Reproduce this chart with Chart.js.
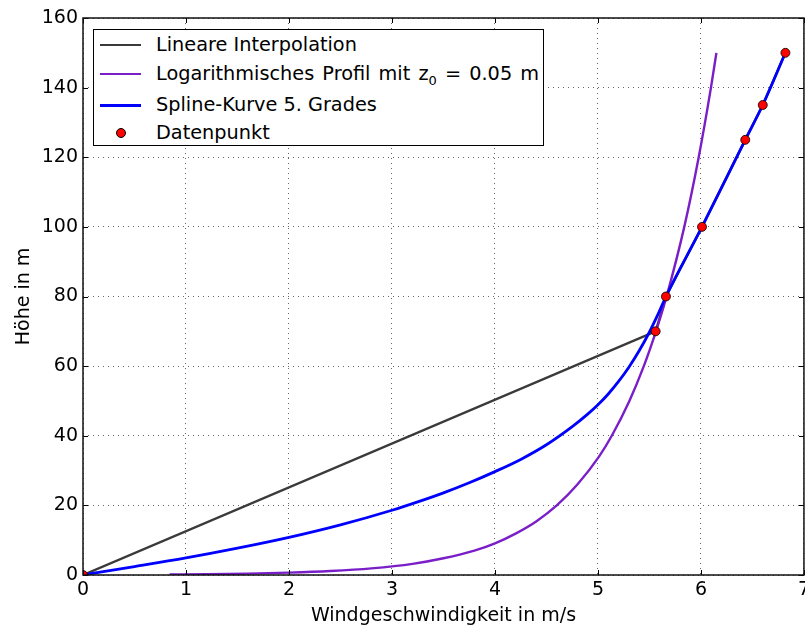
<!DOCTYPE html>
<html>
<head>
<meta charset="utf-8">
<script src="https://cdn.jsdelivr.net/npm/chart.js@4/dist/chart.umd.min.js"></script>
<style>
    html, body { margin: 0; padding: 0; background: #fff; overflow: hidden; }
    #wrap { position: relative; width: 805px; height: 628px; overflow: hidden; }
    #chart { position: absolute; left: 0; top: 0; }
    #legend {
        position: absolute; left: 93px; top: 29px; width: 449px; height: 115px;
        border: 1px solid #000; background: #fff;
        font-family: "DejaVu Sans", sans-serif; font-size: 19.3px; color: #000;
    }
    .row { position: absolute; left: 0; height: 24px; width: 100%; }
    .sample { position: absolute; left: 6px; top: 11px; width: 41px; height: 2px; }
    .dot { position: absolute; left: 22px; top: 7px; width: 8px; height: 8px; border-radius: 50%; border: 1px solid #000; }
    .label { position: absolute; left: 62px; top: 0; line-height: 24px; white-space: nowrap; }
    .label sub { font-size: 13px; vertical-align: -5px; line-height: 0; }
    .wide { word-spacing: 2px; }
</style>
</head>
<body>
<div id="wrap">
    <canvas id="chart" width="814" height="628"></canvas>
    <div id="legend"></div>
</div>
<script>
// data
const pointX = [0, 5.56, 5.66, 6.01, 6.43, 6.6, 6.82];
const pointY = [0, 70, 80, 100, 125, 135, 150];

const splineX = [0, 0.5, 1, 1.5, 2, 2.5, 3, 3.25, 3.5, 3.75, 4, 4.25, 4.5, 4.75, 4.9, 5.0, 5.1, 5.2, 5.3, 5.4, 5.5, 5.58, 5.66, 6.01, 6.43, 6.6, 6.82];
const splineY = [0, 2.4, 4.9, 7.7, 10.8, 14.4, 18.6, 21.0, 23.6, 26.5, 29.7, 33.2, 37.4, 42.6, 46.2, 48.9, 52, 55.6, 59.7, 64.4, 69.8, 74.7, 80, 100, 125, 135, 150];

const logX = [0.84, 1.2, 1.6, 2.0, 2.4, 2.8, 3.2, 3.5, 3.8, 4.0, 4.2, 4.4, 4.6, 4.8, 5.01, 5.134, 5.305, 5.445, 5.563, 5.666, 5.838, 5.978, 6.097, 6.15];
const logY = [0.15, 0.24, 0.4, 0.68, 1.14, 1.9, 3.2, 4.8, 7.0, 9.1, 11.9, 15.4, 20, 26, 34, 40, 50, 60, 70, 80, 100, 120, 140, 150];

const seriesLabels = [
    "Lineare Interpolation",
    "Logarithmisches Profil mit z<sub>0</sub> = 0.05 m",
    "Spline-Kurve 5. Grades",
    "Datenpunkt"
];

const xTicks = [0, 1, 2, 3, 4, 5, 6, 7];
const yTicks = [0, 20, 40, 60, 80, 100, 120, 140, 160];

const toPoints = (xs, ys) => xs.map((x, i) => ({ x, y: ys[i] }));

const FONT = "'DejaVu Sans', sans-serif";

const framePlugin = {
    id: "frame",
    afterDatasetsDraw(chart) {
        const { ctx, chartArea: a, scales: { x, y } } = chart;
        ctx.save();
        ctx.strokeStyle = "#000";
        ctx.lineWidth = 1;
        ctx.beginPath();
        xTicks.forEach(v => {
            const px = Math.round(x.getPixelForValue(v)) + 0.5;
            ctx.moveTo(px, a.bottom); ctx.lineTo(px, a.bottom - 5);
            ctx.moveTo(px, a.top); ctx.lineTo(px, a.top + 5);
        });
        yTicks.forEach(v => {
            const py = Math.round(y.getPixelForValue(v)) + 0.5;
            ctx.moveTo(a.left, py); ctx.lineTo(a.left + 5, py);
            ctx.moveTo(a.right, py); ctx.lineTo(a.right - 5, py);
        });
        ctx.stroke();
        ctx.lineWidth = 1.5;
        ctx.strokeStyle = "#111";
        ctx.strokeRect(a.left, a.top, a.width, a.height);
        ctx.restore();
    }
};

const chart = new Chart(document.getElementById("chart"), {
    type: "line",
    data: {
        datasets: [
            {
                label: seriesLabels[3],
                data: toPoints(pointX, pointY),
                showLine: false,
                pointRadius: 4.5,
                pointBackgroundColor: "#ff0000",
                pointBorderColor: "#000",
                pointBorderWidth: 0.8,
                clip: 0,
                order: 0
            },
            {
                label: seriesLabels[2],
                data: toPoints(splineX, splineY),
                borderColor: "#0000ff",
                borderWidth: 2.8,
                pointRadius: 0,
                cubicInterpolationMode: "monotone",
                order: 1
            },
            {
                label: seriesLabels[1],
                data: toPoints(logX, logY),
                borderColor: "#7a1ec8",
                borderWidth: 2.4,
                pointRadius: 0,
                cubicInterpolationMode: "monotone",
                order: 2
            },
            {
                label: seriesLabels[0],
                data: toPoints(pointX, pointY),
                borderColor: "#3a3a3a",
                borderWidth: 2.4,
                pointRadius: 0,
                tension: 0,
                order: 3
            }
        ]
    },
    options: {
        responsive: false,
        animation: false,
        layout: { padding: { top: 18, right: 0, left: 0, bottom: 0 } },
        plugins: {
            legend: { display: false },
            tooltip: { enabled: false }
        },
        scales: {
            x: {
                type: "linear",
                min: 0,
                max: 7,
                afterBuildTicks: s => { s.ticks = xTicks.map(v => ({ value: v })); },
                afterFit: s => { s.height = 53; },
                grid: { color: "rgba(0,0,0,0.6)", lineWidth: 1, drawTicks: false },
                border: { display: false, dash: [1, 4] },
                ticks: { color: "#000", font: { family: FONT, size: 19 }, padding: 4, maxRotation: 0 },
                title: {
                    display: true,
                    text: "Windgeschwindigkeit in m/s",
                    color: "#000",
                    font: { family: FONT, size: 19 },
                    padding: { top: 0, bottom: 1 }
                }
            },
            y: {
                type: "linear",
                min: 0,
                max: 160,
                afterBuildTicks: s => { s.ticks = yTicks.map(v => ({ value: v })); },
                afterFit: s => { s.width = 83; },
                grid: { color: "rgba(0,0,0,0.6)", lineWidth: 1, drawTicks: false },
                border: { display: false, dash: [1, 4] },
                ticks: { color: "#000", font: { family: FONT, size: 19 }, padding: 5 },
                title: {
                    display: true,
                    text: "Höhe in m",
                    color: "#000",
                    font: { family: FONT, size: 19 },
                    padding: { top: 13, bottom: 0 }
                }
            }
        }
    },
    plugins: [framePlugin]
});

// legend box built from the datasets, drawn as html so the subscript stays text
const legend = document.getElementById("legend");
const rowTops = [3, 32, 63, 91];
[3, 2, 1, 0].forEach((dsIndex, i) => {
    const ds = chart.data.datasets[dsIndex];
    const row = document.createElement("div");
    row.className = "row";
    row.style.top = rowTops[i] + "px";
    const mark = document.createElement("span");
    if (ds.showLine === false) {
        mark.className = "dot";
        mark.style.background = ds.pointBackgroundColor;
    } else {
        mark.className = "sample";
        mark.style.background = ds.borderColor;
        mark.style.height = ds.borderWidth + "px";
    }
    const text = document.createElement("span");
    text.className = "label";
    if (dsIndex === 2) text.classList.add("wide");
    text.innerHTML = ds.label;
    row.appendChild(mark);
    row.appendChild(text);
    legend.appendChild(row);
});
</script>
</body>
</html>
